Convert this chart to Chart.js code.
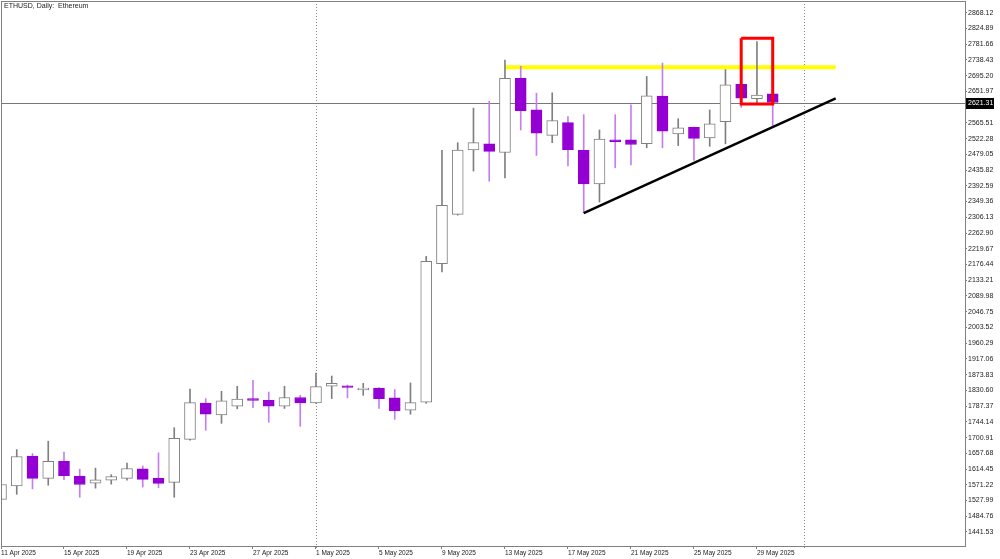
<!DOCTYPE html>
<html>
<head>
<meta charset="utf-8">
<script src="https://cdn.jsdelivr.net/npm/chart.js@4.4.1/dist/chart.umd.min.js"></script>
<style>
html, body { margin: 0; padding: 0; background: #fff; }
</style>
</head>
<body>
<canvas id="myChart" width="1000" height="559"></canvas>
<script>
// daily candles, 11 Apr 2025 .. 30 May 2025 (index 0 = 11 Apr)
var days = ['11 Apr','12 Apr','13 Apr','14 Apr','15 Apr','16 Apr','17 Apr','18 Apr','19 Apr','20 Apr',
    '21 Apr','22 Apr','23 Apr','24 Apr','25 Apr','26 Apr','27 Apr','28 Apr','29 Apr','30 Apr',
    '1 May','2 May','3 May','4 May','5 May','6 May','7 May','8 May','9 May','10 May',
    '11 May','12 May','13 May','14 May','15 May','16 May','17 May','18 May','19 May','20 May',
    '21 May','22 May','23 May','24 May','25 May','26 May','27 May','28 May','29 May','30 May'];
var opens  = [1531,1568,1650,1589,1636,1595,1576,1584,1589,1615,
    1589,1578,1696,1796,1763,1787,1808,1803,1787,1811,
    1796,1842,1843,1832,1837,1810,1776,1798,2179,2314,
    2491,2508,2484,2688,2601,2531,2566,2490,2398,2519,
    2519,2508,2639,2535,2553,2524,2569,2671,2632,2645];
var highs  = [1574,1668,1657,1691,1661,1614,1617,1599,1631,1623,
    1659,1728,1834,1808,1828,1842,1858,1826,1842,1817,
    1878,1870,1845,1850,1838,1833,1851,2199,2490,2511,
    2606,2625,2738,2721,2647,2648,2583,2588,2546,2588,
    2615,2693,2730,2577,2554,2601,2712,2672,2789,2646];
var lows   = [1528,1545,1560,1570,1585,1537,1562,1573,1584,1565,
    1563,1537,1694,1721,1740,1780,1783,1743,1781,1732,
    1795,1808,1810,1817,1781,1751,1765,1795,2156,2312,
    2433,2405,2414,2546,2476,2511,2447,2319,2348,2442,
    2450,2497,2497,2503,2462,2501,2508,2608,2620,2555];
var closes = [1572,1649,1589,1636,1596,1572,1585,1594,1616,1586,
    1575,1699,1797,1765,1802,1807,1803,1787,1811,1796,
    1841,1850,1839,1837,1808,1774,1797,2185,2339,2491,
    2511,2487,2688,2599,2537,2572,2492,2398,2521,2514,
    2506,2640,2543,2552,2523,2563,2670,2633,2642,2621.31];

var xTickDays = [0,4,8,12,16,20,24,28,32,36,40,44,48];
var xTickLabels = ['11 Apr 2025','15 Apr 2025','19 Apr 2025','23 Apr 2025','27 Apr 2025','1 May 2025',
    '5 May 2025','9 May 2025','13 May 2025','17 May 2025','21 May 2025','25 May 2025','29 May 2025'];
var monthStarts = [20, 51];   // 1 May, 1 Jun

var yTicks = [2868.12,2824.89,2781.66,2738.43,2695.20,2651.97,2608.74,2565.51,2522.28,2479.05,
    2435.82,2392.59,2349.36,2306.13,2262.90,2219.67,2176.44,2133.21,2089.98,2046.75,
    2003.52,1960.29,1917.06,1873.83,1830.60,1787.37,1744.14,1700.91,1657.68,1614.45,
    1571.22,1527.99,1484.76,1441.53];

// drawn levels
var resistX = [32, 53], resistY = 2718;
var trendX = [37, 53], trendY = [2317.5, 2633];
var boxX = [47, 49], boxY = [2617.6, 2797.6];

var up = closes.map(function (c, i) { return c >= opens[i]; });
var bodyData = opens.map(function (o, i) { return {x: i, y: [o, closes[i]]}; });
var wickData = lows.map(function (l, i) { return {x: i, y: [l, highs[i]]}; });

var PURPLE = '#9400d3';
var FONT = "'Liberation Sans', Arial, sans-serif";

var framePlugin = {
    id: 'frame',
    beforeDatasetsDraw: function (chart) {
        var ctx = chart.ctx, a = chart.chartArea, x = chart.scales.x;
        ctx.save();
        // month separators
        ctx.strokeStyle = '#8a8a8a';
        ctx.lineWidth = 1;
        ctx.setLineDash([1, 2]);
        monthStarts.forEach(function (d) {
            var px = Math.round(x.getPixelForValue(d)) + 0.5;
            ctx.beginPath();
            ctx.moveTo(px, a.top);
            ctx.lineTo(px, a.bottom + 4);
            ctx.stroke();
        });
        ctx.setLineDash([]);
        // last price line
        var py = Math.round(chart.scales.y.getPixelForValue(closes[closes.length - 1])) + 0.5;
        ctx.strokeStyle = '#777';
        ctx.beginPath();
        ctx.moveTo(a.left, py);
        ctx.lineTo(a.right, py);
        ctx.stroke();
        ctx.restore();
    },
    afterDraw: function (chart) {
        var ctx = chart.ctx, a = chart.chartArea;
        ctx.save();
        ctx.strokeStyle = '#808080';
        ctx.lineWidth = 1;
        ctx.strokeRect(a.left + 0.5, a.top + 0.5, a.right - a.left, a.bottom - a.top);
        ctx.fillStyle = '#222';
        ctx.font = '7px ' + FONT;
        ctx.textBaseline = 'middle';
        ctx.fillText('ETHUSD, Daily:  Ethereum', 4, 6.5);
        // last price label
        var last = closes[closes.length - 1];
        var py = Math.round(chart.scales.y.getPixelForValue(last));
        ctx.fillStyle = '#000';
        ctx.fillRect(a.right + 1, py - 5, 28, 11);
        ctx.fillStyle = '#fff';
        ctx.fillText(last.toFixed(2), a.right + 3, py + 0.5);
        ctx.restore();
    }
};

const data = {
    datasets: [
        {
            type: 'line',
            label: 'box',
            data: [{x: boxX[0], y: boxY[1]}, {x: boxX[1], y: boxY[1]}, {x: boxX[1], y: boxY[0]},
                   {x: boxX[0], y: boxY[0]}, {x: boxX[0], y: boxY[1]}],
            borderColor: '#ff0000',
            borderWidth: 3,
            borderJoinStyle: 'miter',
            pointRadius: 0,
            fill: false,
            order: 0
        },
        {
            type: 'line',
            label: 'trend',
            data: [{x: trendX[0], y: trendY[0]}, {x: trendX[1], y: trendY[1]}],
            borderColor: '#000',
            borderWidth: 2.5,
            pointRadius: 0,
            fill: false,
            order: 1
        },
        {
            type: 'bar',
            label: 'body',
            data: bodyData,
            backgroundColor: up.map(function (u) { return u ? '#ffffff' : PURPLE; }),
            borderColor: up.map(function (u) { return u ? '#808080' : PURPLE; }),
            borderWidth: 1,
            borderSkipped: false,
            barThickness: 11,
            grouped: false,
            order: 2
        },
        {
            type: 'bar',
            label: 'wick',
            data: wickData,
            backgroundColor: up.map(function (u) { return u ? '#808080' : '#c57ef2'; }),
            borderWidth: 0,
            barThickness: 1,
            grouped: false,
            order: 3
        },
        {
            type: 'line',
            label: 'resistance',
            data: [{x: resistX[0], y: resistY}, {x: resistX[1], y: resistY}],
            borderColor: '#ffff00',
            borderWidth: 4,
            pointRadius: 0,
            fill: false,
            order: 4
        }
    ]
};

const config = {
    type: 'bar',
    data: data,
    plugins: [framePlugin],
    options: {
        responsive: false,
        animation: false,
        layout: { padding: { left: 1, top: 1, right: 0, bottom: 0 } },
        plugins: { legend: { display: false }, tooltip: { enabled: false } },
        scales: {
            x: {
                type: 'linear',
                min: 0,
                max: 61.21,
                offset: false,
                afterBuildTicks: function (s) { s.ticks = xTickDays.map(function (v) { return {value: v}; }); },
                afterFit: function (s) { s.height = 13; s.paddingLeft = 0; s.paddingRight = 0; },
                grid: { display: true, drawOnChartArea: false, offset: false, tickLength: 3, color: '#808080' },
                border: { display: false },
                ticks: {
                    autoSkip: false,
                    maxRotation: 0,
                    align: 'start',
                    padding: 0,
                    color: '#222',
                    font: { family: FONT, size: 6.5 },
                    callback: function (v) { return xTickLabels[xTickDays.indexOf(v)]; }
                }
            },
            y: {
                position: 'right',
                min: 1403.07,
                max: 2900.26,
                afterBuildTicks: function (s) { s.ticks = yTicks.map(function (v) { return {value: v}; }); },
                afterFit: function (s) { s.width = 35; s.paddingTop = 0; s.paddingBottom = 0; },
                grid: { display: true, drawOnChartArea: false, tickLength: 2, color: '#808080' },
                border: { display: false },
                ticks: {
                    padding: 1,
                    color: '#222',
                    font: { family: FONT, size: 7 },
                    callback: function (v) { return v.toFixed(2); }
                }
            }
        }
    }
};

const myChart = new Chart(document.getElementById('myChart'), config);
</script>
</body>
</html>
